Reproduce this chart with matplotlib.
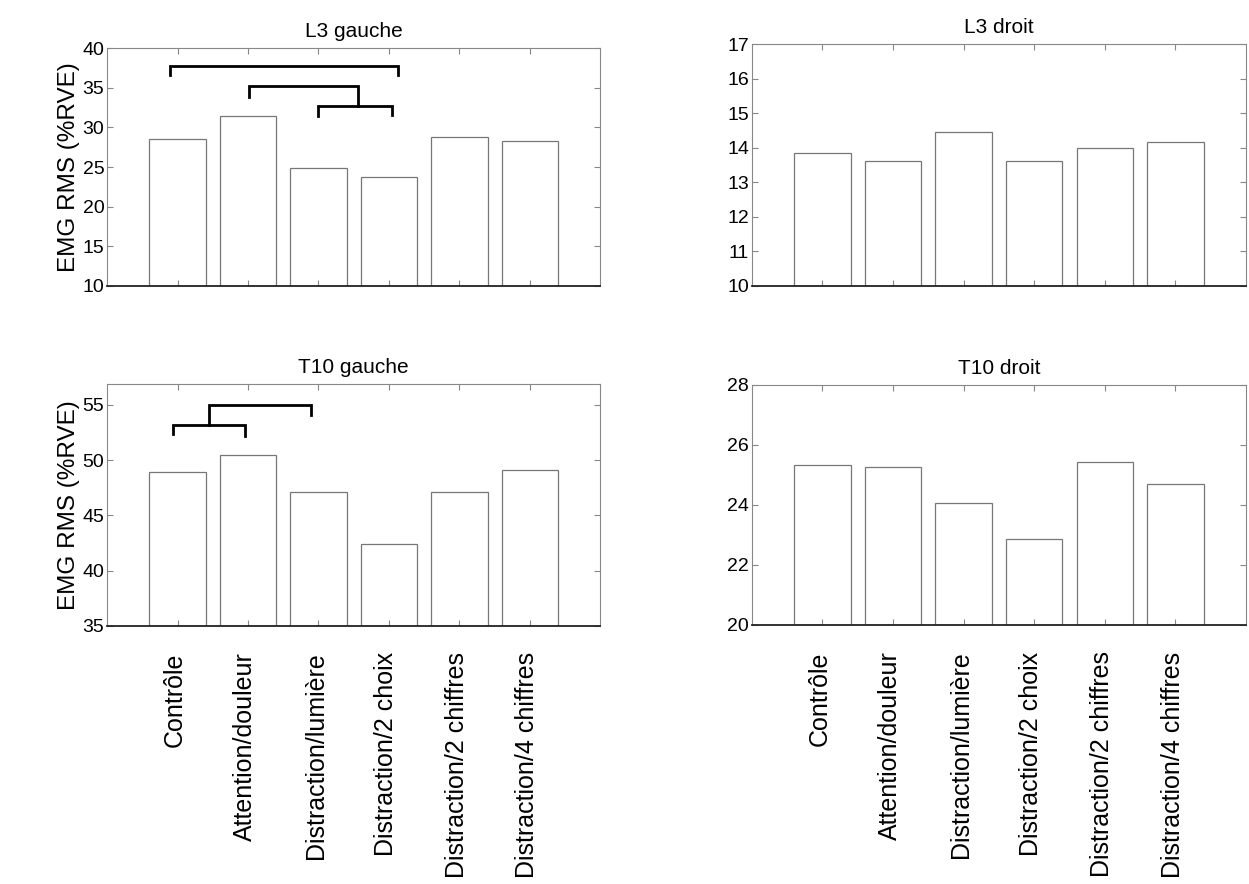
import matplotlib.pyplot as plt

plt.rcParams['font.family'] = ['Liberation Sans', 'DejaVu Sans']

# conditions
conditions = ['Contrôle', 'Attention/douleur', 'Distraction/lumière',
              'Distraction/2 choix', 'Distraction/2 chiffres', 'Distraction/4 chiffres']
x_pos = [1, 2, 3, 4, 5, 6]

# valeurs EMG RMS (%RVE)
l3_gauche = [28.5, 31.4, 24.85, 23.8, 28.85, 28.35]
l3_droit = [13.84, 13.63, 14.45, 13.63, 14.0, 14.16]
t10_gauche = [48.9, 50.5, 47.1, 42.4, 47.1, 49.15]
t10_droit = [25.33, 25.26, 24.08, 22.86, 25.44, 24.69]

# crochets de significativité : (x gauche, x droit, y barre, y pied gauche, y pied droit)
l3_gauche_brackets = [(0.9, 4.13, 37.7, 36.6, 36.6),
                      (2.02, 3.56, 35.2, 33.9, 32.7),
                      (3.0, 4.04, 32.7, 31.4, 31.6)]
t10_gauche_brackets = [(0.94, 1.96, 53.2, 52.4, 52.2),
                       (1.45, 2.89, 55.0, 53.2, 54.1)]


def draw_panel(ax, values, title, ylim, yticks, brackets=None, ylabel=None, labels=False):
    lo = ylim[0]
    ax.bar(x_pos, [v - lo for v in values], width=0.8, bottom=lo, color='white',
           edgecolor='#777777', linewidth=0.9)
    ax.set_xlim(0, 7)
    ax.set_ylim(ylim)
    ax.set_yticks(yticks)
    ax.set_xticks(x_pos)
    ax.set_xticklabels([])
    ax.tick_params(direction='in', top=True, right=True, length=4,
                   color='#888888', labelsize=14, pad=2)
    for side in ['top', 'left', 'right']:
        ax.spines[side].set_color('#888888')
        ax.spines[side].set_linewidth(0.8)
    ax.spines['bottom'].set_color('#222222')
    ax.spines['bottom'].set_linewidth(1.3)
    ax.set_title(title, fontsize=15, pad=8)
    if ylabel:
        ax.set_ylabel(ylabel, fontsize=17.5, labelpad=2)
    if brackets:
        for x0, x1, y, yl, yr in brackets:
            ax.plot([x0, x0, x1, x1], [yl, y, y, yr], color='black', linewidth=2,
                    solid_joinstyle='miter')
    if labels:
        # étiquettes verticales sous l'axe
        for x, lab in zip(x_pos, conditions):
            ax.annotate(lab, xy=(x, 0), xycoords=('data', 'axes fraction'),
                        xytext=(-2, -19), textcoords='offset points',
                        rotation=90, ha='center', va='top', fontsize=18)


fig = plt.figure(figsize=(12.49, 8.84), dpi=100)
ax1 = fig.add_axes([0.0857, 0.6765, 0.395, 0.269])
ax2 = fig.add_axes([0.602, 0.6765, 0.3955, 0.2735])
ax3 = fig.add_axes([0.0857, 0.2919, 0.395, 0.2738])
ax4 = fig.add_axes([0.602, 0.2930, 0.3955, 0.2715])

draw_panel(ax1, l3_gauche, 'L3 gauche', (10, 40), [10, 15, 20, 25, 30, 35, 40],
           brackets=l3_gauche_brackets, ylabel='EMG RMS (%RVE)')
draw_panel(ax2, l3_droit, 'L3 droit', (10, 17), [10, 11, 12, 13, 14, 15, 16, 17])
draw_panel(ax3, t10_gauche, 'T10 gauche', (35, 56.9), [35, 40, 45, 50, 55],
           brackets=t10_gauche_brackets, ylabel='EMG RMS (%RVE)', labels=True)
draw_panel(ax4, t10_droit, 'T10 droit', (20, 28), [20, 22, 24, 26, 28], labels=True)

fig.savefig('out.png', dpi=100)
